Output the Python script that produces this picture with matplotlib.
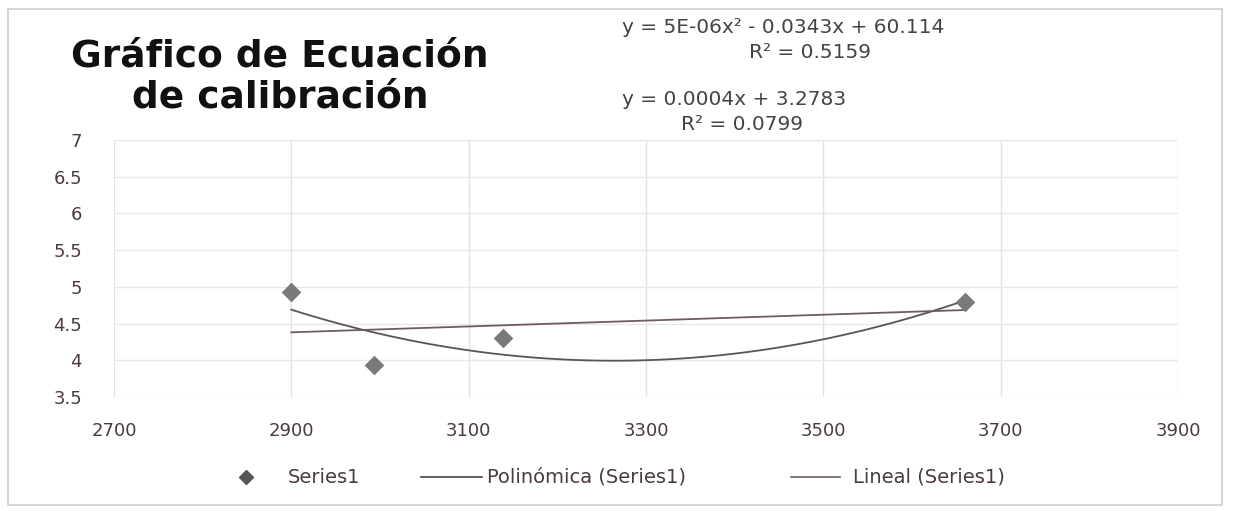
import numpy as np
import matplotlib
matplotlib.use("Agg")
import matplotlib.pyplot as plt
from matplotlib.lines import Line2D
from matplotlib.patches import Rectangle

# Data
x_vals = [2900, 2993, 3139, 3660]
y_vals = [4.93, 3.93, 4.30, 4.80]
x_ticks = [2700, 2900, 3100, 3300, 3500, 3700, 3900]
y_ticks = [3.5, 4, 4.5, 5, 5.5, 6, 6.5, 7]
title_text = "Gráfico de Ecuación\nde calibración"
poly_eq = "y = 5E-06x² - 0.0343x + 60.114"
poly_r2 = "R² = 0.5159"
lin_eq = "y = 0.0004x + 3.2783"
lin_r2 = "R² = 0.0799"
legend_labels = ["Series1", "Polinómica (Series1)", "Lineal (Series1)"]

plt.rcParams['font.family'] = ['DejaVu Sans']

W, H = 1233, 511
fig = plt.figure(figsize=(W/100, H/100), dpi=100)
ax = fig.add_axes([114/W, 1-397/H, (1178-114)/W, (397-140)/H])

txt_col = '#4a3a45'
poly_col = '#5a5458'
lin_col = '#6e5a64'
pt_col = '#7a7a7a'

# trendlines (fitted from data, over data range)
xs = np.linspace(min(x_vals), max(x_vals), 200)
p2 = np.polyfit(x_vals, y_vals, 2)
p1 = np.polyfit(x_vals, y_vals, 1)
ax.plot(xs, np.polyval(p2, xs), color=poly_col, lw=1.3, zorder=3)
ax.plot(xs, np.polyval(p1, xs), color=lin_col, lw=1.3, zorder=3)
ax.scatter(x_vals, y_vals, marker='D', s=100, color=pt_col, zorder=4, linewidths=0)

ax.set_xlim(2700, 3900)
ax.set_ylim(3.5, 7)
ax.set_xticks(x_ticks)
ax.set_yticks(y_ticks)
ax.set_xticklabels([str(v) for v in x_ticks])
ax.set_yticklabels([f"{v:g}" for v in y_ticks])
ax.tick_params(length=0, labelsize=13, colors=txt_col)
ax.tick_params(axis='x', pad=18)
ax.tick_params(axis='y', pad=23)
ax.grid(axis='y', color='#e8e6e8', lw=1)
ax.grid(axis='x', color='#ecdde2', lw=1)
for s in ax.spines.values():
    s.set_visible(False)

# title
fig.text(280/W, 1-77/H, title_text, ha='center', va='center', fontsize=27,
         fontweight='bold', color='#111111', linespacing=1.15)

# equations
eq_fs = 14.5
eq_col = '#444444'
fig.text(622/W, 1-27/H, poly_eq, ha='left', va='center', fontsize=eq_fs, color=eq_col)
fig.text(810/W, 1-52/H, poly_r2, ha='center', va='center', fontsize=eq_fs, color=eq_col)
fig.text(622/W, 1-99/H, lin_eq, ha='left', va='center', fontsize=eq_fs, color=eq_col)
fig.text(742/W, 1-124/H, lin_r2, ha='center', va='center', fontsize=eq_fs, color=eq_col)

# legend (manual layout)
ly = 1 - 477/H
leg_fs = 14
fig.add_artist(Line2D([246/W], [ly], marker='D', color='#555555', ls='none',
                      markersize=7, transform=fig.transFigure))
fig.text(288/W, ly, legend_labels[0], ha='left', va='center', fontsize=leg_fs, color=txt_col)
fig.add_artist(Line2D([421/W, 482/W], [ly, ly], color='#444444', lw=1.2,
                      transform=fig.transFigure))
fig.text(487/W, ly, legend_labels[1], ha='left', va='center', fontsize=leg_fs, color=txt_col)
fig.add_artist(Line2D([791/W, 840/W], [ly, ly], color=lin_col, lw=1.2,
                      transform=fig.transFigure))
fig.text(853/W, ly, legend_labels[2], ha='left', va='center', fontsize=leg_fs, color=txt_col)

# outer frame
fig.patches.append(Rectangle((8/W, 1-505/H), (1222-8)/W, (505-9)/H,
                             transform=fig.transFigure, fill=False,
                             edgecolor='#cfcfcf', lw=1.2))

fig.savefig("out.png", dpi=100)
